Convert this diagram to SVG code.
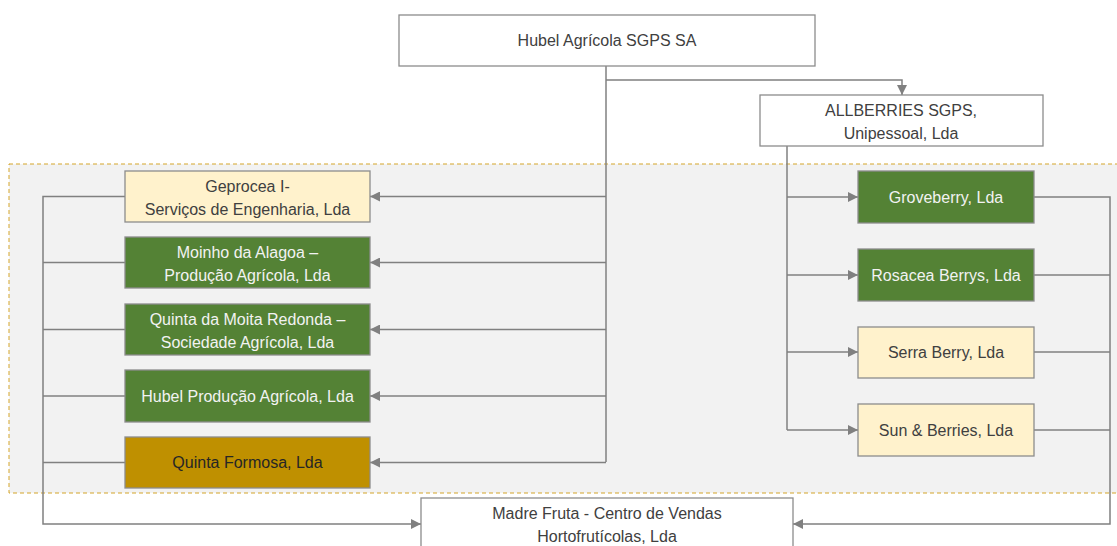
<svg xmlns="http://www.w3.org/2000/svg" width="1117" height="546" viewBox="0 0 1117 546">
<style>
.box{stroke:#8c8c8c;stroke-width:1.3}
.w{fill:#ffffff}
.g{fill:#548235}
.y{fill:#fff2cc}
.o{fill:#bf9000}
.t{font-family:"Liberation Sans",Arial,sans-serif;font-size:16px;text-anchor:middle}
.tl{fill:#f2f2f2}
.td{fill:#404040}
.c{fill:none;stroke:#808080;stroke-width:1.5}
</style>
<defs>
<marker id="ah" viewBox="0 0 10 10" refX="10" refY="5" markerWidth="10" markerHeight="10" markerUnits="userSpaceOnUse" orient="auto">
<path d="M0,0 L10,5 L0,10 z" fill="#808080"/>
</marker>
</defs>
<rect x="9" y="164" width="1110" height="329" fill="#f2f2f2" stroke="#d4a52a" stroke-width="1" stroke-dasharray="4,3"/>
<g id="connectors">
<path class="c" d="M606,66 V462"/>
<path class="c" d="M606,80 H902 V95" marker-end="url(#ah)"/>
<path class="c" d="M606,196.5 H370" marker-end="url(#ah)"/>
<path class="c" d="M606,262.5 H370" marker-end="url(#ah)"/>
<path class="c" d="M606,329.5 H370" marker-end="url(#ah)"/>
<path class="c" d="M606,396 H370" marker-end="url(#ah)"/>
<path class="c" d="M606,462.5 H370" marker-end="url(#ah)"/>
<path class="c" d="M787,146 V430"/>
<path class="c" d="M787,197 H858" marker-end="url(#ah)"/>
<path class="c" d="M787,275 H858" marker-end="url(#ah)"/>
<path class="c" d="M787,352 H858" marker-end="url(#ah)"/>
<path class="c" d="M787,430 H858" marker-end="url(#ah)"/>
<path class="c" d="M125,196.5 H43 V524 H421" marker-end="url(#ah)"/>
<path class="c" d="M125,262.5 H43"/>
<path class="c" d="M125,329.5 H43"/>
<path class="c" d="M125,396 H43"/>
<path class="c" d="M125,462.5 H43"/>
<path class="c" d="M1034,197 H1110 V524 H793" marker-end="url(#ah)"/>
<path class="c" d="M1034,275 H1110"/>
<path class="c" d="M1034,352 H1110"/>
<path class="c" d="M1034,430 H1110"/>
</g>
<g id="hubel-sgps">
<rect class="box w" x="399" y="15" width="416" height="51"/>
<text class="t td" x="607" y="46">Hubel Agrícola SGPS SA</text>
</g>
<g id="allberries">
<rect class="box w" x="760" y="95" width="283" height="51"/>
<text class="t td" x="901" y="116">ALLBERRIES SGPS,</text>
<text class="t td" x="901" y="139">Unipessoal, Lda</text>
</g>
<g id="geprocea">
<rect class="box y" x="125" y="171" width="245" height="51"/>
<text class="t td" x="247.5" y="192">Geprocea I-</text>
<text class="t td" x="247.5" y="215">Serviços de Engenharia, Lda</text>
</g>
<g id="moinho">
<rect class="box g" x="125" y="237" width="245" height="51"/>
<text class="t tl" x="247.5" y="258">Moinho da Alagoa –</text>
<text class="t tl" x="247.5" y="281">Produção Agrícola, Lda</text>
</g>
<g id="quinta-moita">
<rect class="box g" x="125" y="304" width="245" height="51"/>
<text class="t tl" x="247.5" y="325">Quinta da Moita Redonda –</text>
<text class="t tl" x="247.5" y="348">Sociedade Agrícola, Lda</text>
</g>
<g id="hubel-producao">
<rect class="box g" x="125" y="370" width="245" height="52"/>
<text class="t tl" x="247.5" y="402">Hubel Produção Agrícola, Lda</text>
</g>
<g id="quinta-formosa">
<rect class="box o" x="125" y="437" width="245" height="51"/>
<text class="t" fill="#262626" x="247.5" y="468">Quinta Formosa, Lda</text>
</g>
<g id="groveberry">
<rect class="box g" x="858" y="171" width="176" height="52"/>
<text class="t tl" x="946" y="203">Groveberry, Lda</text>
</g>
<g id="rosacea">
<rect class="box g" x="858" y="249" width="176" height="52"/>
<text class="t tl" x="946" y="281">Rosacea Berrys, Lda</text>
</g>
<g id="serra-berry">
<rect class="box y" x="858" y="327" width="176" height="51"/>
<text class="t td" x="946" y="358">Serra Berry, Lda</text>
</g>
<g id="sun-berries">
<rect class="box y" x="858" y="404" width="176" height="52"/>
<text class="t td" x="946" y="436">Sun &amp; Berries, Lda</text>
</g>
<g id="madre-fruta">
<rect class="box w" x="421" y="498" width="372" height="60"/>
<text class="t td" x="607" y="519">Madre Fruta - Centro de Vendas</text>
<text class="t td" x="607" y="542">Hortofrutícolas, Lda</text>
</g>
</svg>
